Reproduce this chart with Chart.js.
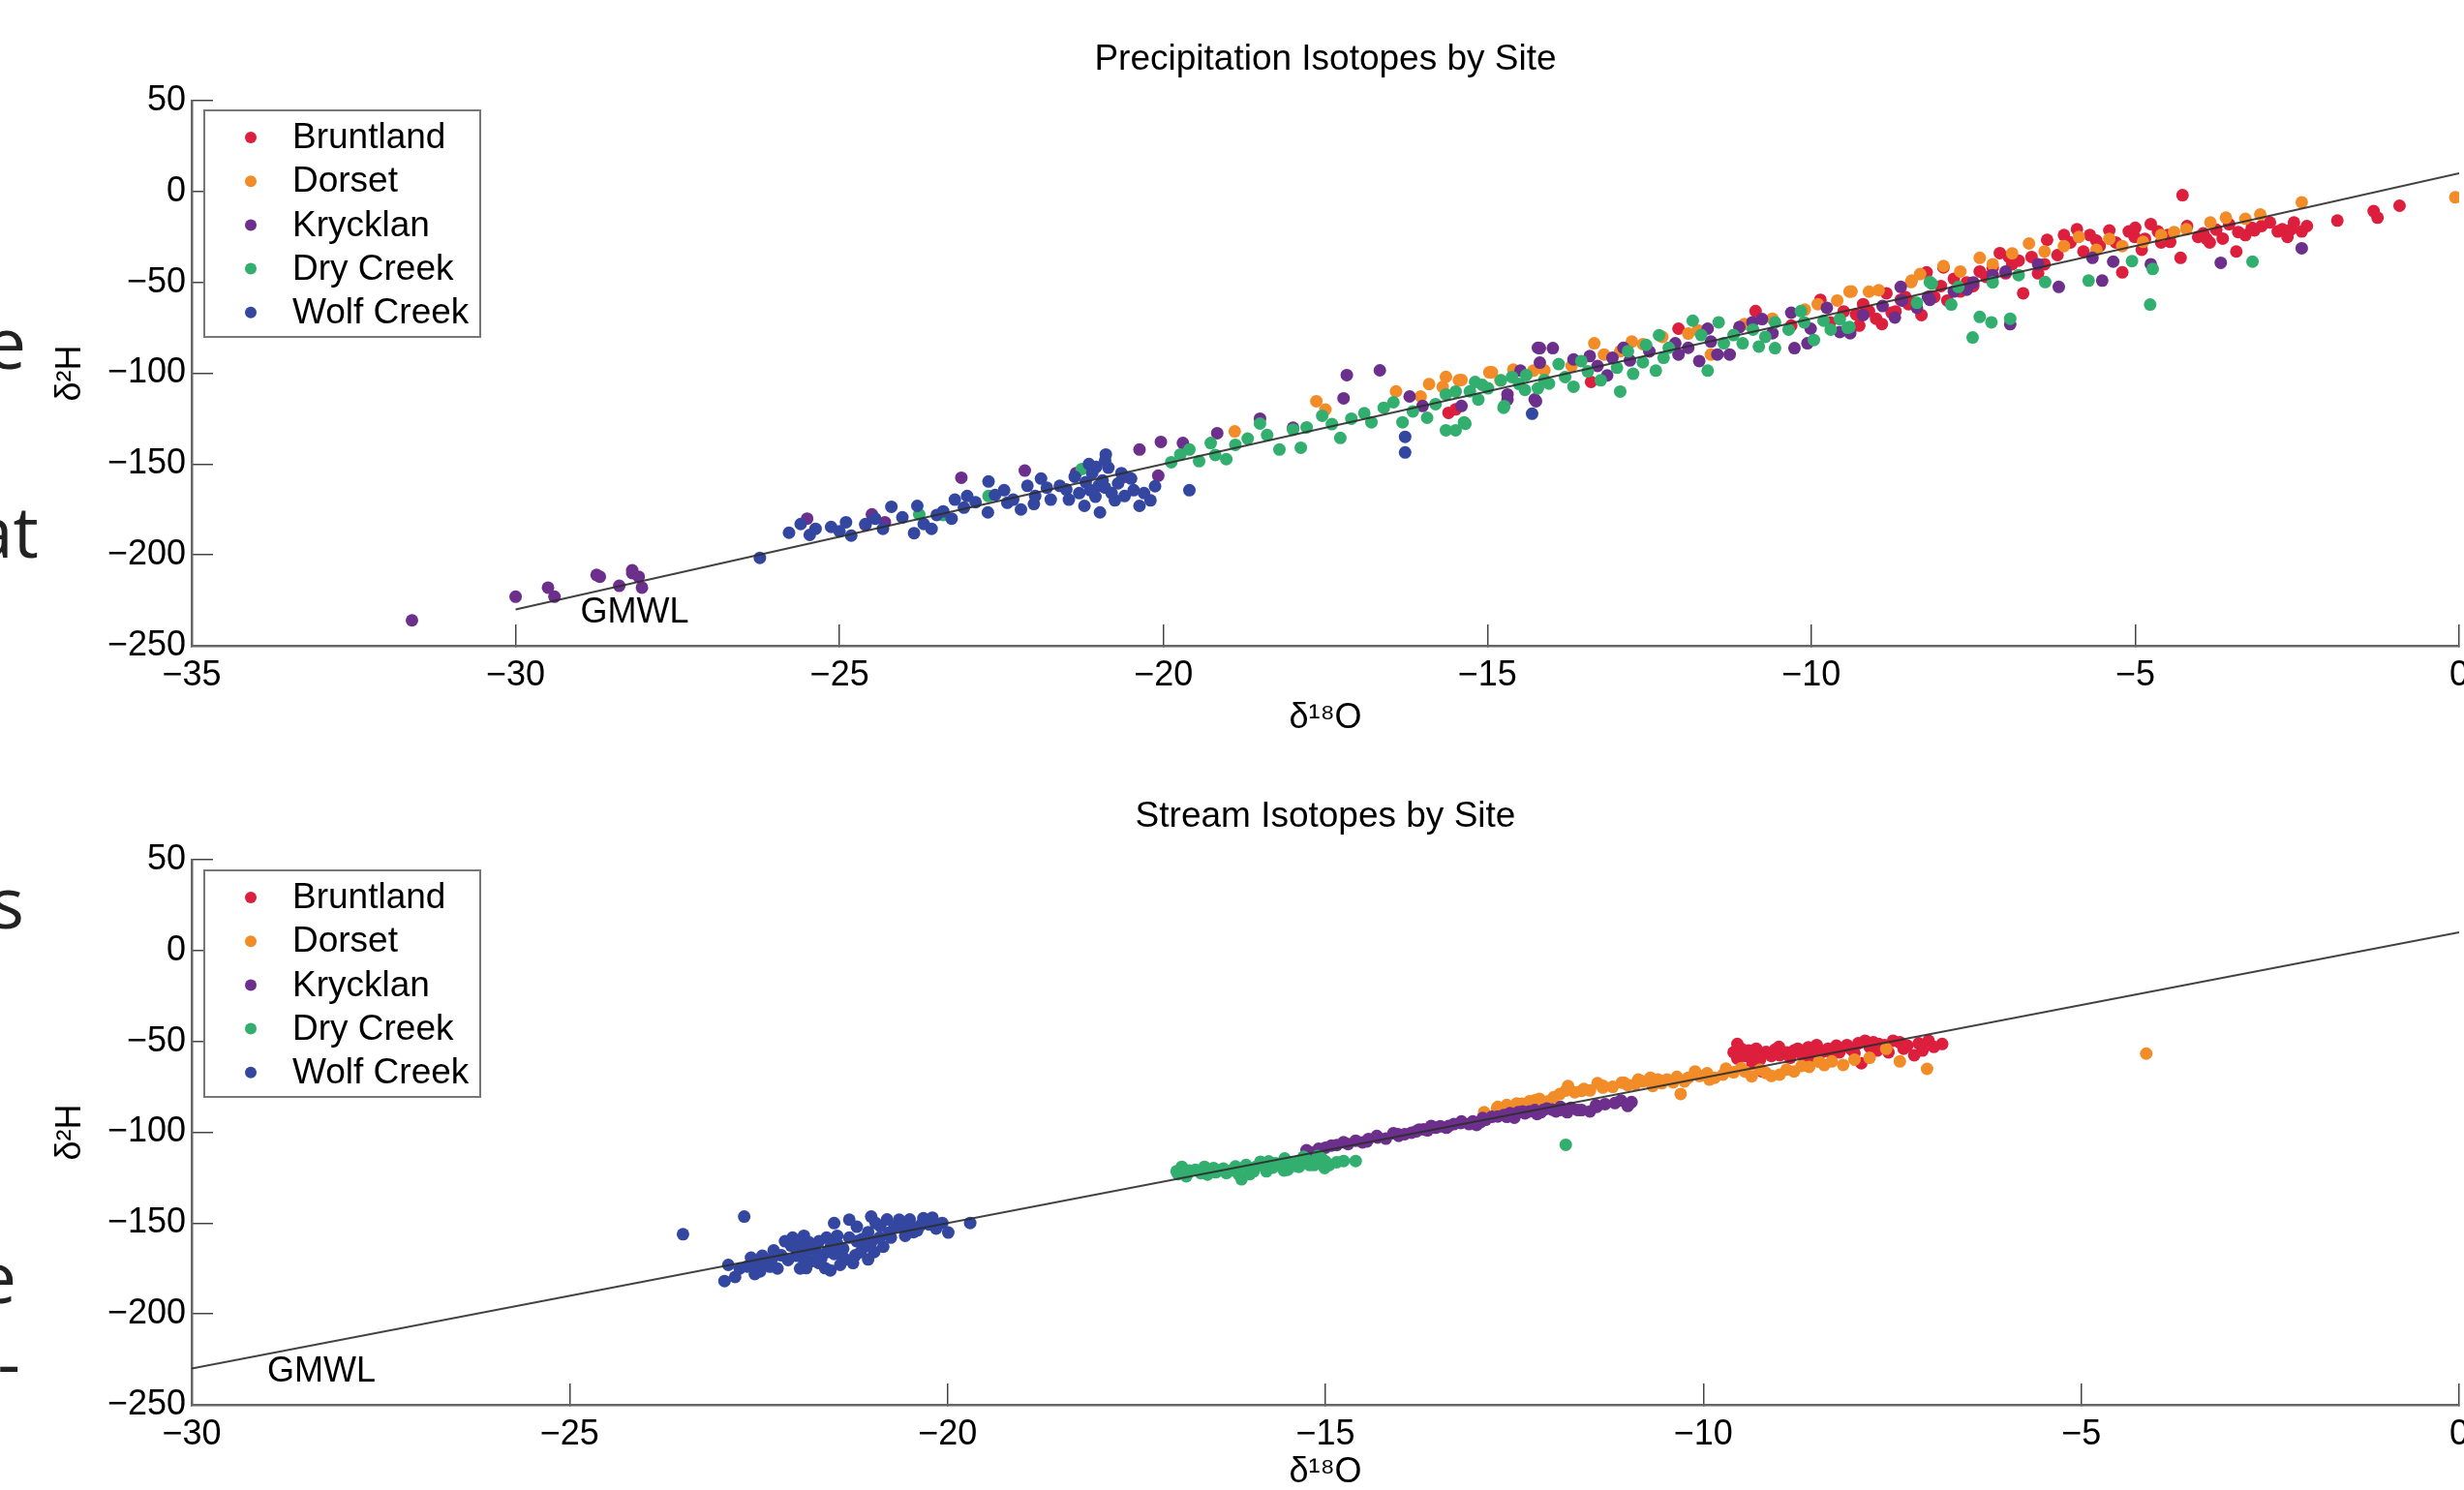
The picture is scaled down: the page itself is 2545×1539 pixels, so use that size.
<!DOCTYPE html>
<html>
<head>
<meta charset="utf-8">
<title>Precipitation and Stream Isotopes by Site</title>
<script src="https://cdn.jsdelivr.net/npm/chart.js@4.4.0/dist/chart.umd.min.js"></script>
<style>
  html, body { margin: 0; padding: 0; background: #fff; overflow: hidden; width: 2545px; height: 1539px; position: relative; }
  .wrap { position: absolute; left: 0; width: 2545px; height: 780px; }
  #topWrap { top: 0; }
  #bottomWrap { top: 784px; }
  .frag { position: absolute; left: 0; direction: rtl; text-align: right; white-space: nowrap;
          font-family: "Open Sans", sans-serif; font-size: 74px; line-height: 74px; color: #222; }
</style>
</head>
<body>
<!-- clipped slide text left of the figure -->
<div class="frag" style="top:316px; width:27px">e</div>
<div class="frag" style="top:511px; width:40px">at</div>
<div class="frag" style="top:894px; width:25px">s</div>
<div class="frag" style="top:1281px; width:17px">e</div>
<div class="frag" style="top:1369px; width:21px">-</div>

<div class="wrap" id="topWrap"><canvas id="precipChart"></canvas></div>
<div class="wrap" id="bottomWrap"><canvas id="streamChart"></canvas></div>

<script>
// sites, colours
const siteNames = ['Bruntland', 'Dorset', 'Krycklan', 'Dry Creek', 'Wolf Creek'];
const siteColors = ['#DC1F3C', '#F28C28', '#6C308C', '#32AF6E', '#3447A0'];

// Global Meteoric Water Line end points [d18O, d2H]
const gmwlLine = [[-30, -230], [0, 10]];
const gmwlLabelAt = [-29, -237];

// axis ranges
const precipX = { min: -35, max: 0, step: 5 };
const streamX = { min: -30, max: 0, step: 5 };
const yRange = { min: -250, max: 50, step: 50 };

// Precipitation [d18O, d2H]
const precipBruntland = [
  [-15.6,-121.8],[-15.49,-119.9],[-13.4,-104.8],[-12.05,-75.5],[-10.86,-65.8],[-10.31,-73.8],[-9.86,-59.6],[-9.71,-72],
  [-9.5,-66],[-9.31,-67.6],[-9.26,-73.8],[-9.11,-65.8],[-9.0,-70],[-8.91,-72.9],[-8.84,-56],[-8.76,-66.7],[-8.7,-66],
  [-8.62,-59.6],[-8.5,-62],[-8.42,-61.3],[-8.3,-68],[-8.22,-44.5],[-8.17,-57.8],[-8.1,-58],[-7.96,-41.8],[-7.9,-60],
  [-7.8,-48],[-7.7,-55],[-7.6,-50],[-7.5,-52],[-7.3,-47],[-7.2,-42],[-7.09,-33.9],[-7.0,-45],[-6.9,-40],[-6.8,-38],
  [-6.73,-56],[-6.6,-36],[-6.5,-45],[-6.4,-40],[-6.36,-26.6],[-6.2,-35],[-6.0,-28],[-5.9,-20.8],[-5.8,-33],[-5.7,-24],
  [-5.55,-30],[-5.4,-21.4],[-5.3,-28],[-5.2,-44.5],[-5.1,-22],[-5.01,-25],[-4.9,-32],[-4.85,-26],[-4.76,-17.9],
  [-4.65,-22],[-4.6,-28],[-4.46,-27.7],[-4.3,-36.5],[-4.27,-2.0],[-4.2,-19],[-4.03,-25],[-3.95,-23],[-3.85,-28],
  [-3.75,-21],[-3.65,-25.9],[-3.55,-18],[-3.44,-33],[-3.41,-22.3],[-3.3,-24],[-3.16,-21.4],[-3.05,-19],[-2.92,-17],
  [-2.8,-22],[-2.73,-20.8],[-2.6,-21],[-2.55,-17],[-2.43,-22],[-2.35,-19],[-1.88,-16],[-1.32,-10.8],[-1.26,-14.4],
  [-0.92,-7.8],[-6.1,-24],[-5.6,-27],[-5.0,-20],[-4.5,-24],[-3.9,-26],[-3.2,-20],[-2.65,-25],[-6.95,-36],[-7.4,-44],
  [-8.0,-52],[-8.55,-58],[-9.2,-62]
];
const precipDorset = [
  [-18.9,-132],[-17.64,-115.4],[-17.5,-120],[-16.41,-110],[-16.03,-112.8],[-15.69,-107.5],[-15.64,-102],[-15.44,-103.9],
  [-15.4,-103.7],[-14.97,-99.5],[-14.93,-99.5],[-14.6,-98],[-14.29,-98.6],[-14.12,-98.4],[-13.35,-83.5],[-13.2,-89.7],
  [-12.95,-87.9],[-12.77,-82.6],[-12.6,-84],[-11.9,-78.2],[-11.75,-76.4],[-11.55,-89.7],[-11.03,-72.9],[-10.1,-65],
  [-9.41,-55.1],[-9.38,-55],[-9.11,-55.1],[-8.96,-54.3],[-8.46,-49.8],[-8.45,-49],[-8.32,-45.4],[-7.96,-41],[-7.7,-44],
  [-7.4,-36.5],[-6.9,-34],[-6.64,-28.6],[-6.1,-30],[-5.87,-25],[-5.6,-32],[-5.2,-30],[-4.88,-27.7],[-4.4,-22.3],
  [-4.21,-20.8],[-3.84,-17],[-3.6,-14.4],[-3.07,-12.6],[-2.43,-5.9],[-0.06,-3.2],[-15.9,-106],[-14.8,-104],
  [-13.7,-96],[-12.3,-80],[-10.6,-70],[-9.9,-62],[-9.6,-60],[-7.2,-40],[-6.4,-33],[-5.4,-26],[-4.6,-24],[-3.3,-15]
];
const precipKrycklan = [
  [-31.6,-236],[-30.0,-223],[-29.5,-218],[-29.4,-223],[-28.75,-211],[-28.7,-212],[-28.4,-217],[-28.2,-210],
  [-28.2,-208.5],[-28.1,-212],[-28.05,-218],[-25.5,-180],[-24.6,-183.5],[-24.5,-177.7],[-24.3,-182],[-23.12,-157.5],
  [-22.14,-153.6],[-21.35,-155],[-20.6,-157],[-20.37,-142],[-20.08,-156.4],[-20.04,-137.8],[-19.7,-138.4],
  [-19.17,-133],[-18.51,-125],[-17.22,-113.8],[-17.17,-101],[-16.66,-98.4],[-16.2,-112.8],[-15.4,-118],[-14.69,-114.5],
  [-14.69,-111.7],[-14.49,-98.6],[-14.27,-114.4],[-14.25,-115.4],[-14.22,-86],[-14.19,-86.2],[-14.19,-94.2],
  [-13.99,-86.2],[-13.67,-92.4],[-13.42,-90.6],[-13.15,-101.2],[-13.07,-91.5],[-12.8,-93],[-12.5,-88],[-12.1,-83.5],
  [-12.05,-89.7],[-11.73,-93.3],[-11.6,-75.5],[-11.55,-82.6],[-11.45,-89.7],[-11.26,-89.7],[-11.11,-74.6],[-10.91,-72],
  [-10.76,-70.2],[-10.31,-66.7],[-10.26,-86.2],[-10.06,-83.5],[-10.01,-75.5],[-9.76,-64],[-9.56,-77.3],[-9.4,-78],
  [-8.9,-63],[-8.71,-69.3],[-8.62,-52.5],[-8.6,-60],[-8.37,-64],[-8.2,-58],[-8.17,-59.6],[-7.8,-55],[-7.5,-50],
  [-7.2,-46],[-7.0,-44],[-6.93,-73],[-6.5,-40],[-6.18,-52.5],[-5.66,-36.5],[-5.51,-49],[-5.34,-38.6],[-4.76,-40],
  [-3.68,-39.2],[-2.43,-31.2],[-18.0,-130],[-16.0,-118],[-13.3,-96],[-12.9,-86],[-11.9,-86],[-10.6,-78],[-9.2,-68],
  [-7.6,-54]
];
const precipDryCreek = [
  [-23.77,-177.7],[-23.4,-178],[-22.7,-167.6],[-21.26,-152.7],[-19.88,-149],[-19.74,-144.7],[-19.6,-142],[-19.45,-148.4],
  [-19.27,-138.4],[-19.03,-147.3],[-18.89,-139.4],[-18.7,-136],[-18.51,-127.7],[-18.21,-142],[-18.0,-131],[-17.88,-141],
  [-17.79,-129.8],[-17.55,-123.4],[-17.4,-128],[-17.27,-135.6],[-16.79,-127],[-16.6,-119],[-16.31,-127],[-15.93,-124.5],
  [-15.64,-131.4],[-15.64,-111.7],[-15.49,-110.1],[-15.49,-131.4],[-15.36,-127],[-15.34,-127.8],[-15.27,-110],
  [-15.19,-104.8],[-15.14,-114.5],[-15.08,-106.4],[-14.99,-108.3],[-14.79,-103.9],[-14.75,-119],[-14.74,-118.1],
  [-14.62,-102.1],[-14.51,-105.9],[-14.42,-109.2],[-14.22,-108.3],[-14.12,-103.7],[-14.05,-105.7],[-13.9,-95],
  [-13.8,-102.1],[-13.67,-107.4],[-13.55,-93.3],[-13.25,-103.9],[-13.0,-97],[-12.95,-110.1],[-12.83,-87.9],
  [-12.75,-100.3],[-12.6,-94],[-12.55,-84.4],[-12.4,-98.6],[-12.35,-79.1],[-12.28,-91.5],[-11.83,-71.1],[-11.6,-98.6],
  [-11.43,-72],[-11.35,-83.5],[-11.2,-79],[-11.06,-83.5],[-10.9,-76],[-10.81,-85.3],[-10.71,-80],[-10.56,-72],
  [-10.56,-86.2],[-10.16,-65.8],[-10.11,-72],[-9.96,-81.7],[-9.81,-71.1],[-9.56,-70.2],[-9.44,-75],[-9.41,-74.6],
  [-8.37,-61.3],[-8.17,-49.8],[-8.14,-50.7],[-7.84,-62.2],[-7.73,-52.5],[-7.51,-80.3],[-7.4,-69],[-7.22,-72],
  [-7.2,-50],[-6.93,-70],[-6.8,-46],[-6.39,-49.8],[-5.72,-49],[-5.05,-38.3],[-4.77,-62.2],[-4.73,-42.6],[-3.19,-38.6],
  [-19.2,-145],[-18.4,-134],[-17.1,-125],[-16.9,-122],[-16.45,-116],[-16.15,-121],[-15.8,-117],[-14.4,-101],
  [-13.45,-99],[-12.2,-86],[-11.7,-79],[-10.35,-76],[-9.7,-76]
];
const precipWolfCreek = [
  [-26.23,-201.6],[-25.78,-187.8],[-25.6,-183],[-25.46,-189],[-25.37,-185.6],[-25.13,-184.6],[-24.9,-182],[-24.82,-189.4],
  [-24.6,-183],[-24.33,-185.6],[-24.2,-173.5],[-24.03,-179.3],[-23.85,-188],[-23.8,-173],[-23.7,-183],[-23.58,-185.6],
  [-23.5,-178],[-23.27,-180],[-23.22,-169.6],[-23.08,-174],[-23.03,-167.6],[-22.9,-171],[-22.71,-176.6],[-22.7,-159.6],
  [-22.46,-164.4],[-22.41,-171.3],[-22.32,-169.6],[-22.2,-175],[-22.0,-172],[-21.98,-167.6],[-21.89,-158],
  [-21.74,-169.6],[-21.6,-162],[-21.46,-169.6],[-21.37,-157],[-21.3,-166],[-21.22,-173],[-21.13,-164.4],[-21.1,-155],
  [-21.04,-151.6],[-21.0,-162],[-20.98,-176.6],[-20.94,-159],[-20.89,-144.7],[-20.85,-152],[-20.8,-166],[-20.7,-160.6],
  [-20.6,-167.6],[-20.46,-164.4],[-20.37,-173],[-20.13,-162.2],[-19.6,-164.4],[-16.27,-135],[-16.27,-143.6],
  [-14.31,-122.3],[-21.2,-160],[-21.05,-168],[-20.9,-163],[-20.75,-170],[-20.65,-155],[-20.5,-158],[-20.3,-166],
  [-20.2,-170],[-20.9,-148],[-21.15,-150],[-21.5,-164],[-21.8,-163],[-22.1,-162],[-22.6,-167],[-23.4,-176],
  [-24.45,-180],[-25.0,-187]
];

// Stream [d18O, d2H]
const streamBruntland = [
  [-9.55,-51.4],[-9.55,-59.4],[-9.4,-55],[-9.36,-57.6],[-9.22,-66.5],[-9.17,-55.8],[-9.0,-53],[-8.99,-57.6],[-8.8,-55],
  [-8.7,-57],[-8.61,-53.2],[-8.61,-60.3],[-8.43,-55.8],[-8.3,-57],[-8.24,-52.3],[-8.05,-54.1],[-7.91,-62],[-7.86,-49.6],
  [-7.7,-55],[-7.68,-51.4],[-7.49,-49.6],[-7.3,-52.3],[-7.21,-57.6],[-7.02,-49.6],[-6.84,-51.4],
  [-9.6,-56],[-9.5,-54],[-9.45,-58],[-9.35,-62],[-9.3,-54],[-9.25,-60],[-9.1,-58],[-9.05,-54.5],[-8.9,-56],[-8.85,-59],
  [-8.75,-54],[-8.55,-56],[-8.5,-52],[-8.35,-54],[-8.2,-56],[-8.1,-52],[-8.0,-56.5],[-7.95,-51],[-7.8,-53],[-7.75,-50.5],
  [-7.6,-52],[-7.55,-56],[-7.4,-50.5],[-7.35,-54],[-7.15,-51],[-7.1,-55],[-6.95,-53]
];
const streamDorset = [
  [-12.73,-86.9],[-12.72,-86],[-12.47,-84.2],[-12.4,-84.3],[-12.23,-82.4],[-12.17,-81.6],[-11.98,-80.7],[-11.82,-77.1],
  [-11.79,-74.5],[-11.61,-77.2],[-11.58,-76.2],[-11.33,-74.4],[-11.33,-75.4],[-11.08,-72.7],[-11.05,-72.7],[-10.86,-71],
  [-10.7,-70],[-10.67,-74.5],[-10.48,-71],[-10.3,-78.9],[-10.2,-70],[-10.11,-66.5],[-9.92,-71],[-9.74,-68.3],[-9.7,-65],
  [-9.5,-64.7],[-9.36,-69.2],[-9.17,-67.4],[-8.99,-68.3],[-8.8,-66.5],[-8.6,-64],[-8.47,-61.2],[-8.15,-62.9],
  [-7.58,-54.1],[-7.04,-65.1],[-4.14,-56.7],
  [-12.9,-89],[-12.6,-85],[-12.3,-83],[-12.05,-83],[-11.9,-79],[-11.7,-78],[-11.5,-77],[-11.4,-73],[-11.2,-75],
  [-11.0,-74],[-10.9,-73.5],[-10.8,-72],[-10.6,-71],[-10.55,-73],[-10.4,-72.5],[-10.35,-69.5],[-10.25,-72],[-10.05,-69],
  [-9.95,-67.5],[-9.85,-70],[-9.6,-67],[-9.45,-66.5],[-9.25,-65.5],[-9.1,-69],[-8.9,-65.5],[-8.7,-63.5],[-8.4,-63],
  [-8.3,-61],[-8.0,-60],[-7.8,-59],[-7.4,-61]
];
const streamKrycklan = [
  [-15.25,-109.9],[-15.09,-109.1],[-14.92,-107.3],[-14.76,-105.5],[-14.6,-104.6],[-14.51,-105.6],[-14.43,-103.7],
  [-14.32,-102],[-14.31,-102.9],[-14.04,-101.1],[-14.03,-102],[-13.86,-100.2],[-13.76,-98.5],[-13.7,-98.4],
  [-13.54,-97.5],[-13.48,-96.7],[-13.37,-96.6],[-13.21,-94.9],[-13.2,-94],[-13.05,-94],[-13.0,-96],[-12.92,-92.2],
  [-12.88,-93.1],[-12.72,-91.3],[-12.64,-90.5],[-12.56,-89.5],[-12.5,-92],[-12.39,-88.6],[-12.36,-89.6],[-12.23,-87.8],
  [-12.2,-90],[-12.12,-87.8],[-12.07,-86.9],[-11.9,-87.8],[-11.89,-86],[-11.8,-89],[-11.66,-87.8],[-11.61,-87.8],
  [-11.42,-85.1],[-11.41,-86],[-11.17,-83.9],[-11.09,-82.5],[-10.95,-83.4],
  [-15.2,-111],[-15.0,-108.5],[-14.85,-107],[-14.7,-106.5],[-14.45,-105],[-14.2,-103.5],[-14.1,-100.5],[-13.95,-101],
  [-13.8,-99.5],[-13.65,-99],[-13.6,-96.5],[-13.4,-97.5],[-13.3,-95.5],[-13.1,-95.5],[-12.95,-94.5],[-12.8,-91.5],
  [-12.6,-91.5],[-12.45,-89],[-12.3,-88.5],[-12.15,-89],[-12.0,-87.5],[-11.95,-88.5],[-11.75,-86.5],[-11.5,-88.5],
  [-11.3,-84.5],[-11.0,-85.5]
];
const streamDryCreek = [
  [-16.97,-121.5],[-16.9,-119],[-16.84,-124.2],[-16.72,-120.6],[-16.56,-123.3],[-16.48,-119.7],[-16.4,-121],
  [-16.31,-122.4],[-16.19,-118.8],[-16.11,-125.9],[-16.0,-123],[-15.99,-119.7],[-15.86,-116.2],[-15.78,-121.5],
  [-15.7,-119.5],[-15.66,-117.1],[-15.54,-114.4],[-15.5,-120.6],[-15.4,-118.5],[-15.37,-116.2],[-15.29,-113.5],
  [-15.21,-118],[-15.13,-116.2],[-15.05,-114.4],[-15.01,-119.7],[-14.76,-115.8],[-14.6,-115.8],[-11.82,-106.9],
  [-16.95,-123],[-16.8,-121],[-16.65,-122.5],[-16.6,-119],[-16.45,-122],[-16.35,-120],[-16.25,-121],[-16.15,-123],
  [-16.05,-118],[-15.95,-121.5],[-15.9,-118.5],[-15.8,-119],[-15.75,-116],[-15.6,-118.5],[-15.55,-121],[-15.45,-116.5],
  [-15.35,-119],[-15.25,-115],[-15.15,-118],[-15.1,-113],[-15.0,-116],[-14.95,-118],[-14.85,-116.5]
];
const streamWolfCreek = [
  [-23.5,-156.1],[-22.95,-181.9],[-22.81,-179.6],[-22.69,-146.4],[-22.65,-173.9],[-22.6,-169],[-22.52,-172.1],
  [-22.48,-176.6],[-22.4,-171],[-22.32,-169.5],[-22.2,-167.7],[-22.11,-170.3],[-22.07,-162.4],[-21.99,-165.9],
  [-21.95,-162],[-21.91,-169.5],[-21.87,-174.8],[-21.83,-160.6],[-21.8,-171],[-21.75,-165],[-21.67,-169.5],
  [-21.62,-174.8],[-21.6,-158],[-21.54,-162.4],[-21.5,-167],[-21.46,-157],[-21.42,-173],[-21.38,-164.1],[-21.35,-170],
  [-21.3,-148.1],[-21.22,-167.7],[-21.2,-160],[-21.13,-158.8],[-21.1,-163],[-21.05,-155],[-21.01,-146.4],
  [-20.97,-165.9],[-20.9,-158],[-20.89,-151.7],[-20.77,-155.2],[-20.7,-152],[-20.64,-148.1],[-20.56,-157],
  [-20.48,-151.7],[-20.4,-154],[-20.32,-147.3],[-20.24,-150.8],[-20.07,-149.9],[-19.99,-155.2],[-19.7,-149.9],
  [-22.3,-165],[-22.25,-175],[-22.15,-160],[-22.0,-168],[-21.95,-175],[-21.85,-165],[-21.7,-160],[-21.7,-172],
  [-21.6,-166],[-21.55,-176],[-21.45,-162],[-21.4,-168],[-21.3,-158],[-21.25,-172],[-21.15,-166],[-21.05,-170],
  [-21.0,-160],[-20.95,-150],[-20.85,-163],[-20.8,-148],[-20.75,-158],[-20.6,-152],[-20.5,-148],[-20.45,-155],
  [-20.35,-151],[-20.2,-147],[-20.15,-153],[-22.75,-175],[-22.55,-178],[-22.35,-174],[-22.9,-173],[-22.45,-168],
  [-22.05,-158],[-21.5,-150],[-21.2,-152],[-21.9,-157]
];

const precipSeries = [precipBruntland, precipDorset, precipKrycklan, precipDryCreek, precipWolfCreek];
const streamSeries = [streamBruntland, streamDorset, streamKrycklan, streamDryCreek, streamWolfCreek];
// later sites are drawn over earlier ones, GMWL on top
const drawOrder = [5, 4, 3, 2, 1];

const fontFamily = '"Liberation Sans", Arial, Helvetica, sans-serif';
const minus = v => (v < 0 ? '\u2212' + Math.abs(v) : String(v));

// boxed legend in the upper left corner of the plot
const boxLegend = {
  id: 'boxLegend',
  afterDraw(chart) {
    const { ctx, chartArea } = chart;
    const items = chart.data.datasets.filter(d => d.inLegend);
    const x = chartArea.left + 13, y = chartArea.top + chart.options.plugins.boxLegend.offsetY;
    const w = 285, h = 234;
    ctx.save();
    ctx.fillStyle = '#fff';
    ctx.fillRect(x, y, w, h);
    ctx.strokeStyle = '#777';
    ctx.lineWidth = 2;
    ctx.strokeRect(x, y, w, h);
    ctx.font = '37px ' + fontFamily;
    ctx.textBaseline = 'middle';
    items.forEach((d, i) => {
      const cy = y + 28 + i * 45.2;
      ctx.beginPath();
      ctx.arc(x + 48, cy, 6, 0, Math.PI * 2);
      ctx.fillStyle = d.backgroundColor;
      ctx.fill();
      ctx.fillStyle = '#000';
      ctx.fillText(d.label, x + 91, cy + 1);
    });
    ctx.restore();
  }
};

// "GMWL" text next to the line
const gmwlText = {
  id: 'gmwlText',
  afterDatasetsDraw(chart) {
    const { ctx, scales } = chart;
    ctx.save();
    ctx.font = '36px ' + fontFamily;
    ctx.fillStyle = '#000';
    ctx.textAlign = 'left';
    ctx.textBaseline = 'alphabetic';
    ctx.fillText('GMWL', scales.x.getPixelForValue(gmwlLabelAt[0]), scales.y.getPixelForValue(gmwlLabelAt[1]));
    ctx.restore();
  }
};

function makeChart(id, title, series, xr, lay) {
  const datasets = [{
    label: 'GMWL',
    data: gmwlLine.map(([x, y]) => ({ x, y })),
    showLine: true,
    borderColor: 'rgba(45,45,45,0.9)',
    borderWidth: 2,
    pointRadius: 0,
    order: 0
  }].concat(siteNames.map((name, i) => ({
    label: name,
    data: series[i].map(([x, y]) => ({ x, y })),
    backgroundColor: siteColors[i],
    borderWidth: 0,
    pointRadius: 6.5,
    pointHoverRadius: 6.5,
    order: drawOrder[i],
    inLegend: true
  })));

  const tickFont = { family: fontFamily, size: 36 };
  return new Chart(document.getElementById(id), {
    type: 'scatter',
    data: { datasets },
    plugins: [boxLegend, gmwlText],
    options: {
      responsive: true,
      maintainAspectRatio: false,
      animation: false,
      layout: { autoPadding: false, padding: { left: 0, right: 5, top: 0, bottom: 0 } },
      plugins: {
        legend: { display: false },
        tooltip: { enabled: false },
        boxLegend: { offsetY: lay.legendY },
        title: {
          display: true,
          fullSize: false,
          text: title,
          color: '#000',
          font: { family: fontFamily, size: 37, weight: 'normal' },
          padding: { top: lay.titleTop, bottom: lay.titleBottom }
        }
      },
      scales: {
        x: {
          type: 'linear',
          min: xr.min, max: xr.max,
          ticks: { stepSize: xr.step, color: '#000', font: tickFont, padding: 31, maxRotation: 0, autoSkip: false, callback: minus },
          grid: { drawOnChartArea: false, tickLength: -22, color: '#444', lineWidth: 1.5 },
          border: { color: '#666', width: 2.5 },
          title: { display: true, text: 'δ¹⁸O', color: '#000', font: tickFont, padding: { top: 0, bottom: lay.xTitleBottom } },
          afterFit(s) { s.height = 113; s.paddingLeft = 0; s.paddingRight = 0; }
        },
        y: {
          type: 'linear',
          min: yRange.min, max: yRange.max,
          ticks: { stepSize: yRange.step, color: '#000', font: tickFont, padding: 28, autoSkip: false, callback: minus },
          grid: { drawOnChartArea: false, tickLength: -22, color: '#444', lineWidth: 1.5 },
          border: { color: '#666', width: 2.5 },
          title: { display: true, text: 'δ²H', color: '#000', font: tickFont, padding: { top: 51, bottom: 0 } },
          afterFit(s) { s.width = 198; s.paddingTop = 0; s.paddingBottom = 0; }
        }
      }
    }
  });
}

makeChart('precipChart', 'Precipitation Isotopes by Site', precipSeries, precipX,
  { titleTop: 39.8, titleBottom: 19.8, xTitleBottom: 16.4, legendY: 10 });
makeChart('streamChart', 'Stream Isotopes by Site', streamSeries, streamX,
  { titleTop: 37.8, titleBottom: 21.8, xTitleBottom: 21.4, legendY: 11 });
</script>
</body>
</html>
